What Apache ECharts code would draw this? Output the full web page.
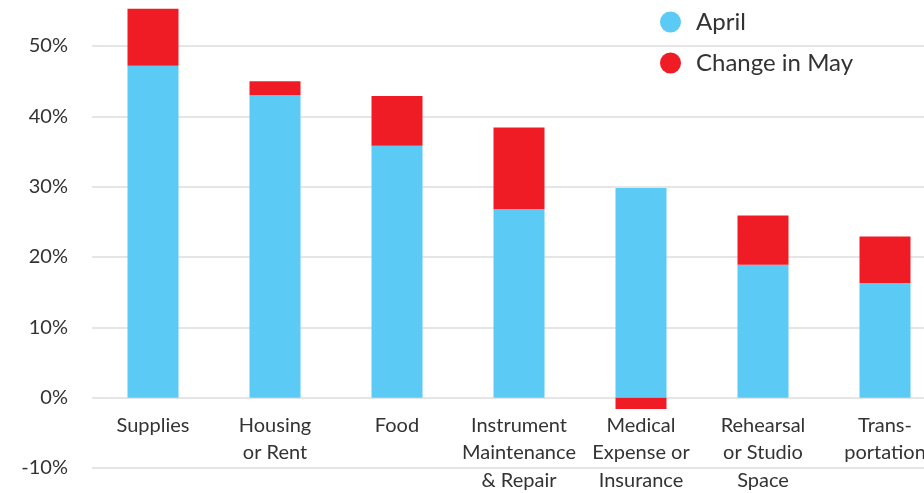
<!DOCTYPE html>
<html>
<head>
<meta charset="utf-8">
<script src="https://cdn.jsdelivr.net/npm/echarts@6/dist/echarts.min.js"></script>
<style>
html,body{margin:0;padding:0;background:#fff;}
#chart{width:924px;height:493px;}
</style>
</head>
<body>
<div id="chart"></div>
<script>
const categories = ["Supplies", "Housing\nor Rent", "Food", "Instrument\nMaintenance\n& Repair", "Medical\nExpense or\nInsurance", "Rehearsal\nor Studio\nSpace", "Trans-\nportation"];
const aprilValues = [47.2, 43.0, 35.8, 26.8, 29.8, 18.9, 16.3];
const changeInMay = [8.1, 2.0, 7.1, 11.6, -1.6, 7.0, 6.6];
const yTicks = [-10, 0, 10, 20, 30, 40, 50];

const FONT = "Lato";
const chart = echarts.init(document.getElementById('chart'), null, {renderer: 'canvas'});
chart.setOption({
  animation: false,
  backgroundColor: '#fff',
  textStyle: {fontFamily: FONT},
  legend: {
    orient: 'vertical',
    left: 655,
    top: 5,
    icon: 'circle',
    itemWidth: 21,
    itemHeight: 21,
    itemGap: 17,
    textStyle: {fontSize: 24, color: '#333', fontFamily: FONT, padding: [0, 0, 0, 10]},
    data: ['April', 'Change in May']
  },
  grid: {left: 92, top: 46, width: 854, height: 422, containLabel: false, outerBoundsMode: 'none'},
  xAxis: {
    type: 'category',
    data: categories,
    offset: -70.3,
    axisLine: {show: false},
    axisTick: {show: false},
    axisLabel: {interval: 0, fontSize: 20, lineHeight: 27.5, color: '#333', margin: 14, fontFamily: FONT}
  },
  yAxis: {
    type: 'value',
    min: yTicks[0],
    max: yTicks[yTicks.length - 1],
    interval: 10,
    axisLine: {show: false},
    axisTick: {show: false},
    splitLine: {lineStyle: {color: '#dcdcdc', width: 1.5}},
    axisLabel: {formatter: v => v + '%', fontSize: 20, color: '#333', margin: 24, fontFamily: FONT}
  },
  series: [
    {name: 'April', type: 'bar', stack: 'total', data: aprilValues, barWidth: 51, clip: false,
     itemStyle: {color: '#5BCBF5'}},
    {name: 'Change in May', type: 'bar', stack: 'total', data: changeInMay, barWidth: 51, clip: false,
     itemStyle: {color: '#EF1C25'}}
  ]
});
</script>
</body>
</html>
